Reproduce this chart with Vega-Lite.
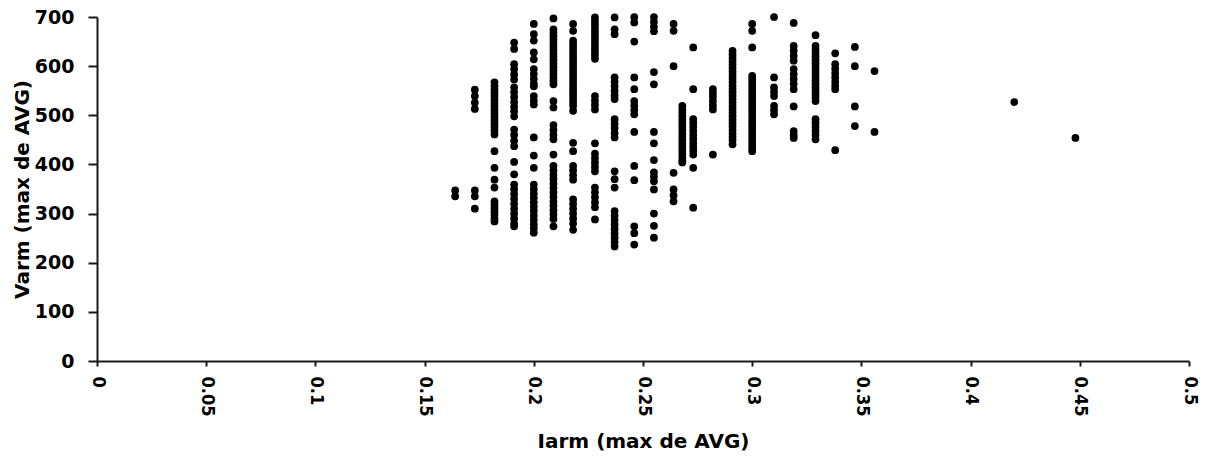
{
  "$schema": "https://vega.github.io/schema/vega-lite/v6.json",
  "width": 1092,
  "height": 344,
  "autosize": {"type": "none"},
  "padding": {"left": 97, "top": 17, "right": 18, "bottom": 100},
  "background": "white",
  "config": {"view": {"stroke": null}},
  "data": {"values": [
    {"x":0.164,"y":347},{"x":0.164,"y":335},
    {"x":0.173,"y":552},{"x":0.173,"y":539},{"x":0.173,"y":526},{"x":0.173,"y":513},{"x":0.173,"y":347},{"x":0.173,"y":335},{"x":0.173,"y":310},
    {"x":0.182,"y":567},{"x":0.182,"y":560},{"x":0.182,"y":553},{"x":0.182,"y":546},{"x":0.182,"y":539},{"x":0.182,"y":532},{"x":0.182,"y":525},{"x":0.182,"y":518},{"x":0.182,"y":511},{"x":0.182,"y":504},{"x":0.182,"y":497},{"x":0.182,"y":490},{"x":0.182,"y":483},{"x":0.182,"y":476},{"x":0.182,"y":469},{"x":0.182,"y":461},{"x":0.182,"y":427},{"x":0.182,"y":393},{"x":0.182,"y":369},{"x":0.182,"y":353},{"x":0.182,"y":325},{"x":0.182,"y":318},{"x":0.182,"y":311},{"x":0.182,"y":304},{"x":0.182,"y":297},{"x":0.182,"y":290},{"x":0.182,"y":284},
    {"x":0.191,"y":648},{"x":0.191,"y":635},{"x":0.191,"y":604},{"x":0.191,"y":594},{"x":0.191,"y":583},{"x":0.191,"y":573},{"x":0.191,"y":557},{"x":0.191,"y":547},{"x":0.191,"y":537},{"x":0.191,"y":527},{"x":0.191,"y":517},{"x":0.191,"y":508},{"x":0.191,"y":498},{"x":0.191,"y":471},{"x":0.191,"y":460},{"x":0.191,"y":448},{"x":0.191,"y":437},{"x":0.191,"y":405},{"x":0.191,"y":380},{"x":0.191,"y":359},{"x":0.191,"y":350},{"x":0.191,"y":340},{"x":0.191,"y":330},{"x":0.191,"y":320},{"x":0.191,"y":310},{"x":0.191,"y":300},{"x":0.191,"y":290},{"x":0.191,"y":280},{"x":0.191,"y":274},
    {"x":0.2,"y":686},{"x":0.2,"y":665},{"x":0.2,"y":652},{"x":0.2,"y":628},{"x":0.2,"y":614},{"x":0.2,"y":594},{"x":0.2,"y":584},{"x":0.2,"y":574},{"x":0.2,"y":564},{"x":0.2,"y":559},{"x":0.2,"y":539},{"x":0.2,"y":530},{"x":0.2,"y":522},{"x":0.2,"y":455},{"x":0.2,"y":418},{"x":0.2,"y":393},{"x":0.2,"y":359},{"x":0.2,"y":350},{"x":0.2,"y":341},{"x":0.2,"y":332},{"x":0.2,"y":323},{"x":0.2,"y":314},{"x":0.2,"y":305},{"x":0.2,"y":296},{"x":0.2,"y":287},{"x":0.2,"y":278},{"x":0.2,"y":270},{"x":0.2,"y":261},
    {"x":0.209,"y":697},{"x":0.209,"y":675},{"x":0.209,"y":668},{"x":0.209,"y":661},{"x":0.209,"y":654},{"x":0.209,"y":647},{"x":0.209,"y":640},{"x":0.209,"y":633},{"x":0.209,"y":626},{"x":0.209,"y":619},{"x":0.209,"y":612},{"x":0.209,"y":605},{"x":0.209,"y":598},{"x":0.209,"y":591},{"x":0.209,"y":584},{"x":0.209,"y":577},{"x":0.209,"y":570},{"x":0.209,"y":563},{"x":0.209,"y":529},{"x":0.209,"y":516},{"x":0.209,"y":480},{"x":0.209,"y":470},{"x":0.209,"y":460},{"x":0.209,"y":451},{"x":0.209,"y":420},{"x":0.209,"y":397},{"x":0.209,"y":388},{"x":0.209,"y":379},{"x":0.209,"y":370},{"x":0.209,"y":361},{"x":0.209,"y":352},{"x":0.209,"y":343},{"x":0.209,"y":334},{"x":0.209,"y":325},{"x":0.209,"y":316},{"x":0.209,"y":307},{"x":0.209,"y":298},{"x":0.209,"y":289},{"x":0.209,"y":274},
    {"x":0.218,"y":686},{"x":0.218,"y":672},{"x":0.218,"y":652},{"x":0.218,"y":645},{"x":0.218,"y":638},{"x":0.218,"y":631},{"x":0.218,"y":624},{"x":0.218,"y":617},{"x":0.218,"y":610},{"x":0.218,"y":603},{"x":0.218,"y":596},{"x":0.218,"y":589},{"x":0.218,"y":582},{"x":0.218,"y":575},{"x":0.218,"y":568},{"x":0.218,"y":561},{"x":0.218,"y":554},{"x":0.218,"y":547},{"x":0.218,"y":540},{"x":0.218,"y":533},{"x":0.218,"y":526},{"x":0.218,"y":519},{"x":0.218,"y":509},{"x":0.218,"y":444},{"x":0.218,"y":427},{"x":0.218,"y":397},{"x":0.218,"y":388},{"x":0.218,"y":378},{"x":0.218,"y":369},{"x":0.218,"y":329},{"x":0.218,"y":320},{"x":0.218,"y":310},{"x":0.218,"y":300},{"x":0.218,"y":290},{"x":0.218,"y":280},{"x":0.218,"y":267},
    {"x":0.228,"y":699},{"x":0.228,"y":692},{"x":0.228,"y":685},{"x":0.228,"y":678},{"x":0.228,"y":671},{"x":0.228,"y":664},{"x":0.228,"y":657},{"x":0.228,"y":650},{"x":0.228,"y":643},{"x":0.228,"y":636},{"x":0.228,"y":629},{"x":0.228,"y":622},{"x":0.228,"y":615},{"x":0.228,"y":539},{"x":0.228,"y":530},{"x":0.228,"y":521},{"x":0.228,"y":512},{"x":0.228,"y":443},{"x":0.228,"y":422},{"x":0.228,"y":413},{"x":0.228,"y":404},{"x":0.228,"y":395},{"x":0.228,"y":386},{"x":0.228,"y":353},{"x":0.228,"y":343},{"x":0.228,"y":333},{"x":0.228,"y":323},{"x":0.228,"y":313},{"x":0.228,"y":288},
    {"x":0.237,"y":699},{"x":0.237,"y":675},{"x":0.237,"y":665},{"x":0.237,"y":577},{"x":0.237,"y":568},{"x":0.237,"y":559},{"x":0.237,"y":550},{"x":0.237,"y":541},{"x":0.237,"y":533},{"x":0.237,"y":492},{"x":0.237,"y":483},{"x":0.237,"y":474},{"x":0.237,"y":464},{"x":0.237,"y":455},{"x":0.237,"y":386},{"x":0.237,"y":370},{"x":0.237,"y":353},{"x":0.237,"y":305},{"x":0.237,"y":296},{"x":0.237,"y":287},{"x":0.237,"y":278},{"x":0.237,"y":269},{"x":0.237,"y":260},{"x":0.237,"y":251},{"x":0.237,"y":242},{"x":0.237,"y":233},
    {"x":0.246,"y":700},{"x":0.246,"y":689},{"x":0.246,"y":650},{"x":0.246,"y":577},{"x":0.246,"y":553},{"x":0.246,"y":529},{"x":0.246,"y":520},{"x":0.246,"y":511},{"x":0.246,"y":502},{"x":0.246,"y":466},{"x":0.246,"y":397},{"x":0.246,"y":368},{"x":0.246,"y":274},{"x":0.246,"y":260},{"x":0.246,"y":237},
    {"x":0.255,"y":700},{"x":0.255,"y":690},{"x":0.255,"y":680},{"x":0.255,"y":671},{"x":0.255,"y":588},{"x":0.255,"y":563},{"x":0.255,"y":466},{"x":0.255,"y":443},{"x":0.255,"y":409},{"x":0.255,"y":384},{"x":0.255,"y":375},{"x":0.255,"y":366},{"x":0.255,"y":349},{"x":0.255,"y":300},{"x":0.255,"y":275},{"x":0.255,"y":251},
    {"x":0.264,"y":686},{"x":0.264,"y":672},{"x":0.264,"y":600},{"x":0.264,"y":383},{"x":0.264,"y":349},{"x":0.264,"y":337},{"x":0.264,"y":325},
    {"x":0.268,"y":519},{"x":0.268,"y":512},{"x":0.268,"y":505},{"x":0.268,"y":498},{"x":0.268,"y":491},{"x":0.268,"y":484},{"x":0.268,"y":477},{"x":0.268,"y":470},{"x":0.268,"y":463},{"x":0.268,"y":456},{"x":0.268,"y":449},{"x":0.268,"y":442},{"x":0.268,"y":435},{"x":0.268,"y":428},{"x":0.268,"y":421},{"x":0.268,"y":414},{"x":0.268,"y":407},{"x":0.268,"y":404},
    {"x":0.273,"y":638},{"x":0.273,"y":553},{"x":0.273,"y":492},{"x":0.273,"y":484},{"x":0.273,"y":476},{"x":0.273,"y":468},{"x":0.273,"y":460},{"x":0.273,"y":452},{"x":0.273,"y":444},{"x":0.273,"y":436},{"x":0.273,"y":428},{"x":0.273,"y":420},{"x":0.273,"y":393},{"x":0.273,"y":312},
    {"x":0.282,"y":553},{"x":0.282,"y":545},{"x":0.282,"y":537},{"x":0.282,"y":529},{"x":0.282,"y":520},{"x":0.282,"y":512},{"x":0.282,"y":420},
    {"x":0.291,"y":631},{"x":0.291,"y":624},{"x":0.291,"y":617},{"x":0.291,"y":610},{"x":0.291,"y":603},{"x":0.291,"y":596},{"x":0.291,"y":589},{"x":0.291,"y":582},{"x":0.291,"y":575},{"x":0.291,"y":568},{"x":0.291,"y":561},{"x":0.291,"y":554},{"x":0.291,"y":547},{"x":0.291,"y":540},{"x":0.291,"y":533},{"x":0.291,"y":526},{"x":0.291,"y":519},{"x":0.291,"y":512},{"x":0.291,"y":505},{"x":0.291,"y":498},{"x":0.291,"y":491},{"x":0.291,"y":484},{"x":0.291,"y":477},{"x":0.291,"y":470},{"x":0.291,"y":463},{"x":0.291,"y":456},{"x":0.291,"y":449},{"x":0.291,"y":441},
    {"x":0.3,"y":686},{"x":0.3,"y":672},{"x":0.3,"y":638},{"x":0.3,"y":580},{"x":0.3,"y":573},{"x":0.3,"y":566},{"x":0.3,"y":559},{"x":0.3,"y":552},{"x":0.3,"y":545},{"x":0.3,"y":538},{"x":0.3,"y":531},{"x":0.3,"y":524},{"x":0.3,"y":517},{"x":0.3,"y":510},{"x":0.3,"y":503},{"x":0.3,"y":496},{"x":0.3,"y":489},{"x":0.3,"y":482},{"x":0.3,"y":475},{"x":0.3,"y":468},{"x":0.3,"y":461},{"x":0.3,"y":454},{"x":0.3,"y":447},{"x":0.3,"y":440},{"x":0.3,"y":433},{"x":0.3,"y":427},
    {"x":0.31,"y":700},{"x":0.31,"y":577},{"x":0.31,"y":557},{"x":0.31,"y":548},{"x":0.31,"y":539},{"x":0.31,"y":519},{"x":0.31,"y":510},{"x":0.31,"y":502},
    {"x":0.319,"y":688},{"x":0.319,"y":641},{"x":0.319,"y":631},{"x":0.319,"y":621},{"x":0.319,"y":611},{"x":0.319,"y":594},{"x":0.319,"y":584},{"x":0.319,"y":574},{"x":0.319,"y":564},{"x":0.319,"y":553},{"x":0.319,"y":518},{"x":0.319,"y":468},{"x":0.319,"y":460},{"x":0.319,"y":454},
    {"x":0.329,"y":663},{"x":0.329,"y":641},{"x":0.329,"y":634},{"x":0.329,"y":627},{"x":0.329,"y":620},{"x":0.329,"y":613},{"x":0.329,"y":606},{"x":0.329,"y":599},{"x":0.329,"y":592},{"x":0.329,"y":585},{"x":0.329,"y":578},{"x":0.329,"y":571},{"x":0.329,"y":564},{"x":0.329,"y":557},{"x":0.329,"y":550},{"x":0.329,"y":543},{"x":0.329,"y":536},{"x":0.329,"y":529},{"x":0.329,"y":492},{"x":0.329,"y":484},{"x":0.329,"y":476},{"x":0.329,"y":468},{"x":0.329,"y":460},{"x":0.329,"y":451},
    {"x":0.338,"y":626},{"x":0.338,"y":604},{"x":0.338,"y":595},{"x":0.338,"y":586},{"x":0.338,"y":577},{"x":0.338,"y":568},{"x":0.338,"y":560},{"x":0.338,"y":553},{"x":0.338,"y":429},
    {"x":0.347,"y":639},{"x":0.347,"y":600},{"x":0.347,"y":518},{"x":0.347,"y":478},
    {"x":0.356,"y":590},{"x":0.356,"y":466},
    {"x":0.42,"y":527},
    {"x":0.448,"y":454}
  ]},
  "mark": {"type": "point", "shape": "circle", "filled": true, "color": "#000000", "size": 60, "opacity": 1},
  "encoding": {
    "x": {
      "field": "x", "type": "quantitative",
      "scale": {"domain": [0, 0.5], "nice": false, "zero": false},
      "axis": {
        "title": "Iarm (max de AVG)",
        "values": [0, 0.05, 0.1, 0.15, 0.2, 0.25, 0.3, 0.35, 0.4, 0.45, 0.5],
        "format": "~g",
        "grid": false,
        "domainColor": "#1a1a1a", "domainWidth": 2,
        "tickColor": "#1a1a1a", "tickWidth": 2, "tickSize": 5,
        "labelAngle": 90, "labelAlign": "left", "labelBaseline": "middle",
        "labelPadding": 10,
        "labelFont": "DejaVu Sans Condensed",
        "labelFontWeight": "bold", "labelFontSize": 18, "labelColor": "#000000",
        "labelOverlap": false, "labelFlush": false, "labelBound": false,
        "titleFont": "DejaVu Sans", "titleFontWeight": "bold", "titleFontSize": 20, "titleColor": "#000000",
        "titleX": 546, "titleY": 80, "titleAlign": "center", "titleBaseline": "middle", "titleAnchor": null
      }
    },
    "y": {
      "field": "y", "type": "quantitative",
      "scale": {"domain": [0, 700], "nice": false, "zero": false},
      "axis": {
        "title": "Varm (max de AVG)",
        "values": [0, 100, 200, 300, 400, 500, 600, 700],
        "grid": false,
        "domainColor": "#1a1a1a", "domainWidth": 2,
        "tickColor": "#1a1a1a", "tickWidth": 2, "tickSize": 9,
        "labelPadding": 14,
        "labelFont": "DejaVu Sans", "labelFontWeight": "bold", "labelFontSize": 19, "labelColor": "#000000",
        "labelOverlap": false, "labelFlush": false, "labelBound": false,
        "titleFont": "DejaVu Sans", "titleFontWeight": "bold", "titleFontSize": 20, "titleColor": "#000000",
        "titleAngle": 270, "titleX": -75, "titleY": 172, "titleAlign": "center", "titleBaseline": "middle"
      }
    }
  }
}
